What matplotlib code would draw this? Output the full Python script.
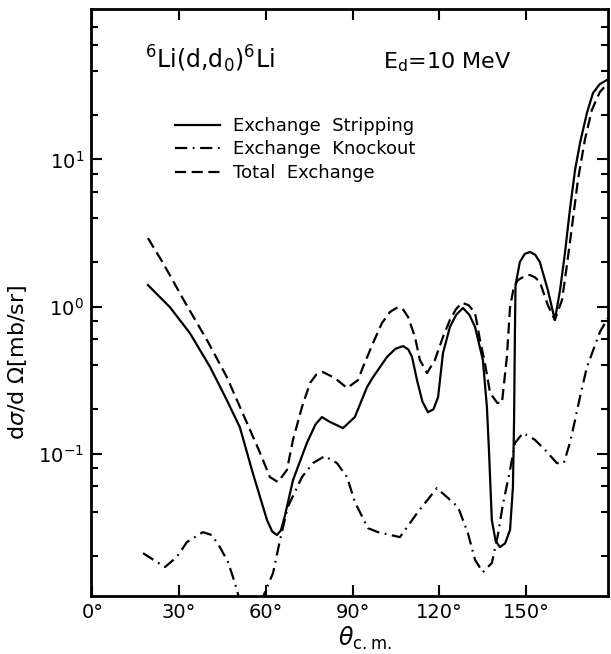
import matplotlib
matplotlib.use("Agg")
import matplotlib.pyplot as plt
from matplotlib.ticker import LogLocator, FixedLocator, NullFormatter

# angles in degrees (c.m.) and cross sections in mb/sr
strip_ang = [19.2, 26.8, 33.7, 40.7, 46.5, 51.0, 55.5, 60.4, 62.2, 63.8, 65.2, 66.5,
             69.4, 74.2, 77.2, 79.4, 82.2, 86.7, 90.8, 95.0, 97.1, 101.9, 104.8,
             107.5, 109.3, 110.6, 112.3, 114.2, 116.1, 118.0, 119.6, 121.3, 123.7,
             125.9, 128.2, 130.4, 132.4, 135.1, 136.5, 137.2, 138.2, 139.5, 141.0,
             142.8, 144.5, 145.5, 145.9, 146.2, 146.4, 147.9, 149.6, 151.4, 153.2,
             154.8, 157.6, 160.0, 161.8, 163.5, 165.2, 167.0, 168.7, 171.1, 173.2,
             175.5, 178.0]
strip_val = [1.40, 0.99, 0.66, 0.388, 0.231, 0.151, 0.0736, 0.0353, 0.0295, 0.0279,
             0.0300, 0.0370, 0.066, 0.118, 0.158, 0.177, 0.164, 0.149, 0.177, 0.283,
             0.331, 0.453, 0.515, 0.538, 0.51, 0.453, 0.316, 0.225, 0.191, 0.200,
             0.242, 0.483, 0.726, 0.88, 0.977, 0.88, 0.726, 0.433, 0.207, 0.106,
             0.0353, 0.0255, 0.0231, 0.0245, 0.0302, 0.0592, 0.169, 0.692, 1.40,
             2.01, 2.28, 2.35, 2.25, 2.01, 1.29, 0.81, 1.29, 2.31, 4.53, 8.49, 12.9,
             20.7, 28.3, 32.5, 34.7]

knock_ang = [17.5, 22.3, 25.1, 29.2, 32.7, 38.2, 41.3, 44.1, 46.9, 48.6, 50.0, 54.0,
             60.0, 62.5, 64.9, 67.6, 72.5, 76.3, 80.4, 84.6, 88.1, 90.8, 95.3, 98.8,
             106.4, 112.6, 119.2, 126.5, 129.9, 132.4, 135.1, 138.2, 140.3, 142.0,
             144.5, 146.2, 149.0, 153.1, 156.6, 160.7, 163.1, 165.2, 167.0, 168.7,
             171.1, 175.6, 178.4]
knock_val = [0.0210, 0.0183, 0.0169, 0.0198, 0.0250, 0.0292, 0.0279, 0.0231, 0.0183,
             0.0145, 0.0118, 0.006, 0.0118, 0.0154, 0.0258, 0.0433, 0.0692, 0.0861,
             0.0961, 0.0861, 0.0692, 0.0468, 0.0311, 0.0292, 0.0270, 0.0400, 0.0582,
             0.0433, 0.0288, 0.0189, 0.0156, 0.0180, 0.0279, 0.0447, 0.0773, 0.118,
             0.138, 0.124, 0.106, 0.0861, 0.0861, 0.118, 0.169, 0.242, 0.387, 0.671,
             0.835]

total_ang = [19.2, 24.4, 32.0, 40.0, 46.5, 53.5, 58.0, 61.4, 64.2, 67.3, 69.4, 72.5,
             75.3, 77.5, 79.8, 83.9, 88.1, 91.9, 93.6, 97.1, 100.2, 103.0, 105.7,
             107.6, 109.2, 111.6, 113.3, 115.8, 118.5, 121.3, 123.7, 125.8, 127.9,
             130.2, 132.4, 134.1, 135.8, 137.6, 140.1, 141.7, 143.4, 144.5, 145.8,
             147.2, 149.3, 151.4, 153.1, 154.8, 157.6, 160.0, 162.5, 164.2, 166.0,
             168.0, 170.4, 172.8, 175.6, 178.4]
total_val = [2.92, 1.98, 1.07, 0.574, 0.331, 0.161, 0.101, 0.0692, 0.064, 0.0773,
             0.124, 0.207, 0.302, 0.345, 0.358, 0.326, 0.279, 0.316, 0.387, 0.565,
             0.773, 0.92, 0.99, 0.95, 0.849, 0.621, 0.433, 0.353, 0.433, 0.621, 0.81,
             0.96, 1.06, 1.02, 0.903, 0.592, 0.413, 0.258, 0.221, 0.221, 0.453, 0.99,
             1.35, 1.51, 1.60, 1.64, 1.58, 1.47, 1.02, 0.81, 1.11, 1.92, 3.58, 7.26,
             13.6, 21.7, 28.8, 33.1]

xticks = [0, 30, 60, 90, 120, 150]
xticklabels = ["0°", "30°", "60°", "90°", "120°", "150°"]
labels = ["Exchange  Stripping", "Exchange  Knockout", "Total  Exchange"]

fig = plt.figure(figsize=(6.11, 6.54), dpi=100)
ax = fig.add_axes([91 / 611, 58 / 654, 517 / 611, 587 / 654])

l1, = ax.plot(strip_ang, strip_val, color="black", lw=1.6, ls="-")
l2, = ax.plot(knock_ang, knock_val, color="black", lw=1.6, ls=(0, (5.5, 2.5, 0.8, 2.5)))
l3, = ax.plot(total_ang, total_val, color="black", lw=1.6, ls=(0, (5, 2.5)))

ax.set_yscale("log")
ax.set_xlim(-0.5, 178.4)
ax.set_ylim(0.01074, 105.6)

ax.xaxis.set_major_locator(FixedLocator(xticks))
ax.set_xticklabels(xticklabels)
ax.yaxis.set_minor_locator(LogLocator(base=10, subs=(2, 4, 6, 8), numticks=10))
ax.yaxis.set_minor_formatter(NullFormatter())
ax.set_yticks([0.1, 1, 10])
ax.set_yticklabels([r"$\mathregular{10^{-1}}$", r"$\mathregular{10^{0}}$",
                    r"$\mathregular{10^{1}}$"])

ax.tick_params(which="both", direction="in", top=True, right=True, labelsize=14,
               width=1.5)
ax.tick_params(which="major", length=8, pad=5)
ax.tick_params(which="minor", length=5)
for s in ax.spines.values():
    s.set_linewidth(2)

fig.text(18 / 611, 1 - 362 / 654, r"d$\sigma$/d $\Omega$[mb/sr]", rotation=90,
         ha="center", va="center", fontsize=16)
fig.text(365 / 611, 1 - 638 / 654, r"$\theta_{\mathregular{c.m.}}$", ha="center",
         va="center", fontsize=17)

fig.text(145 / 611, 1 - 68 / 654, r"$\mathregular{^{6}}$Li(d,d$\mathregular{_{0}}$)$\mathregular{^{6}}$Li",
         ha="left", va="baseline", fontsize=17)
fig.text(383 / 611, 1 - 68 / 654, r"E$\mathregular{_{d}}$=10 MeV", ha="left",
         va="baseline", fontsize=16)

ax.legend([l1, l2, l3], labels, loc="upper left",
          bbox_to_anchor=(175 / 611, 1 - 117 / 654), bbox_transform=fig.transFigure,
          frameon=False, fontsize=13, handlelength=2.5, handletextpad=0.7,
          labelspacing=0.3, borderpad=0, borderaxespad=0)

fig.savefig("out.png", dpi=100)
